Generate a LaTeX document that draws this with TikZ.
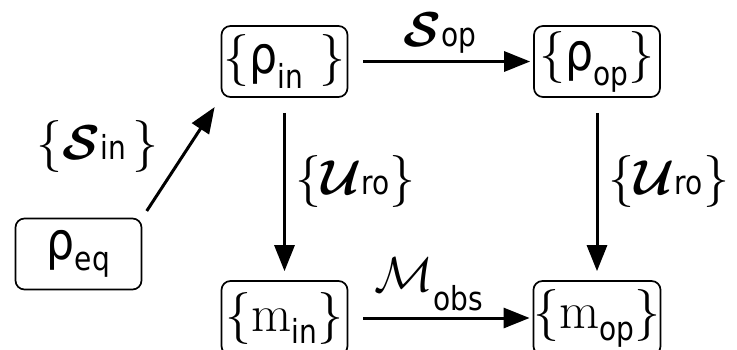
\documentclass[tikz,border=0pt]{standalone}
\usepackage{fix-cm}
\usepackage{fontspec}
\usepackage{bm}
\newfontfamily\dv[FakeStretch=0.85]{DejaVu Sans}
\usetikzlibrary{arrows.meta}
\newcommand\rh{{\dv ρ}}
\newcommand\sbs[2][15]{\raisebox{-#1pt}{\fontsize{33}{33}\selectfont\dv #2}}
\newcommand\cl[1]{{\fontsize{49}{49}\selectfont$\bm{\mathcal{#1}}$}}
\newcommand\clr[1]{{\fontsize{49}{49}\selectfont$\mathcal{#1}$}}
\begin{document}
\begin{tikzpicture}[x=1pt,y=-1pt,
  box/.style={draw, line width=1.7pt, rounded corners=9pt, minimum width=126pt,
    minimum height=71pt, inner sep=0pt, font=\fontsize{52}{60}\selectfont},
  arr/.style={line width=3pt, -{Triangle[length=26pt,width=20pt]}},
  lab/.style={inner sep=0pt, anchor=base, font=\fontsize{52}{60}\selectfont}]
\useasboundingbox (0,0) rectangle (737,349);
\clip (0,0) rectangle (737,349);
% boxes
\node[box] (rin) at (284.5,61.5) {$\{$\rh\sbs{in}\hspace{16pt}$\}$};
\node[box] (rop) at (597,61.5) {$\{$\rh\sbs{op}$\}$};
\node[box] (req) at (78.5,254) {\rh\sbs[11]{eq}};
\node[box, minimum height=74pt] (min) at (284.5,318) {$\{$m\sbs[12]{in}$\}$};
\node[box, minimum height=74pt] (mop) at (597,318) {$\{$m\sbs[12]{op}$\}$};
% connectors
\draw[arr, shorten <=15pt, shorten >=3pt] (rin) -- (rop);
\draw[arr, shorten <=15pt, shorten >=3pt] (min) -- (mop);
\draw[arr, shorten <=15pt, shorten >=9pt] (rin) -- (min);
\draw[arr, shorten <=15pt, shorten >=9pt] (rop) -- (mop);
\draw[arr, shorten <=8pt, shorten >=11pt] (req.north east) -- (rin.south west);
% labels
\node[lab] (lsin) at (97.5,159) {$\{$\cl{S}\sbs[0]{in}\hspace{6pt}$\}$};
\node[lab] (lsop) at (440,46) {\cl{S}\sbs[0]{op}};
\node[lab] (luro1) at (355.5,194) {$\{$\cl{U}\sbs[0]{ro}$\}$};
\node[lab] (luro2) at (669,194) {$\{$\cl{U}\sbs[0]{ro}$\}$};
\node[lab] (lmobs) at (428.5,291) {\clr{M}\sbs[19]{obs}};
\end{tikzpicture}
\end{document}
